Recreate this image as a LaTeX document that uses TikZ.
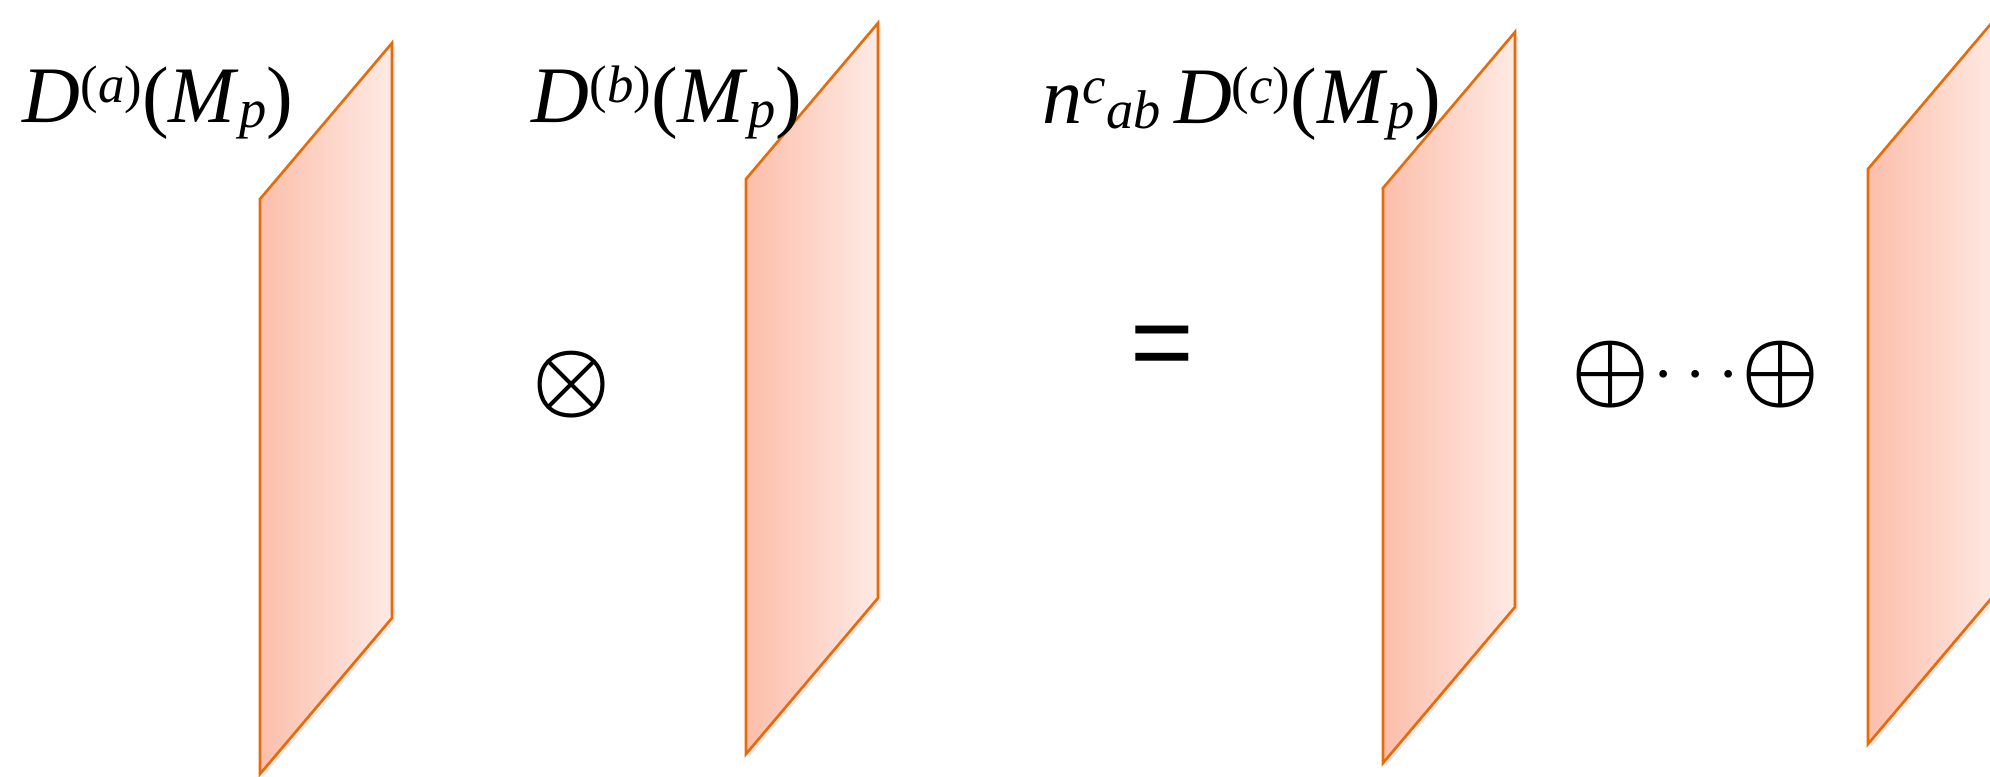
\documentclass[tikz,border=0pt]{standalone}
\usepackage{fontspec}
\setmainfont{Liberation Serif}
\newfontfamily\eqfont{Liberation Sans}
\usetikzlibrary{shadows}
\definecolor{braneleft}{RGB}{252,190,170}
\definecolor{braneright}{RGB}{254,234,228}
\definecolor{braneedge}{RGB}{228,108,10}
\newcommand{\upix}[1]{\raisebox{0.20cm}{\fontsize{15}{15}\selectfont #1}}
\newcommand{\lowix}[1]{\raisebox{-0.05cm}{\fontsize{15.5}{16}\selectfont #1}}
\tikzset{
  brane/.style={
    draw=braneedge, line width=0.75pt, line join=miter,
    left color=braneleft, right color=braneright,
    drop shadow={opacity=0.18, shadow xshift=0.03, shadow yshift=-0.03}
  },
  rep label/.style={
    anchor=base west, inner sep=0pt, font=\fontsize{22.8}{26}\selectfont
  },
  big op/.style={
    anchor=base, inner sep=0pt, font=\fontsize{25.5}{28}\selectfont\boldmath
  }
}

\begin{document}
\begin{tikzpicture}
\useasboundingbox (0,0) rectangle (19.90,-7.76);

% ------------------------------------------------
% 第1个膜：D^(a)
% ------------------------------------------------
\begin{scope}[shift={(2.60,-1.99)}]
  \draw[brane] (0,0) -- ++(1.32,1.56) -- ++(0,-5.75) -- ++(-1.32,-1.56) -- cycle;
  \node[rep label] (labA) at (-2.38,0.77)
    {\textit{D}\upix{(\textit{a})}(\textit{M}\lowix{\textit{p}})};
\end{scope}

\node[big op] (otimes) at (5.72,-4.06) {$\otimes$};

% ------------------------------------------------
% 第2个膜：D^(b)
% ------------------------------------------------
\begin{scope}[shift={(7.46,-1.79)}]
  \draw[brane] (0,0) -- ++(1.32,1.56) -- ++(0,-5.75) -- ++(-1.32,-1.56) -- cycle;
  \node[rep label] (labB) at (-2.15,0.57)
    {\textit{D}\upix{(\textit{b})}(\textit{M}\lowix{\textit{p}})};
\end{scope}

\node[inner sep=0pt, font=\eqfont\fontsize{31}{34}\selectfont] (eq) at (11.62,-3.53) {=};

% ------------------------------------------------
% 第3个膜：n^c_ab D^(c)
% ------------------------------------------------
\begin{scope}[shift={(13.83,-1.88)}]
  \draw[brane] (0,0) -- ++(1.32,1.56) -- ++(0,-5.75) -- ++(-1.32,-1.56) -- cycle;
  \node[rep label] (labC) at (-3.41,0.65)
    {\textit{n}\upix{\textit{c}}\lowix{\textit{ab}}\,\textit{D}\upix{(\textit{c})}(\textit{M}\lowix{\textit{p}})};
\end{scope}

\node[big op] (oplusL) at (16.11,-3.96) {$\oplus$};
\node[anchor=base, inner sep=0pt, font=\fontsize{22}{24}\selectfont] (dots) at (16.96,-3.92) {$\cdots$};
\node[big op] (oplusR) at (17.81,-3.96) {$\oplus$};

% ------------------------------------------------
% 第4个膜：右边被截掉
% ------------------------------------------------
\begin{scope}[shift={(18.68,-1.69)}]
  \draw[brane] (0,0) -- ++(1.32,1.56) -- ++(0,-5.75) -- ++(-1.32,-1.56) -- cycle;
\end{scope}
\end{tikzpicture}
\end{document}
